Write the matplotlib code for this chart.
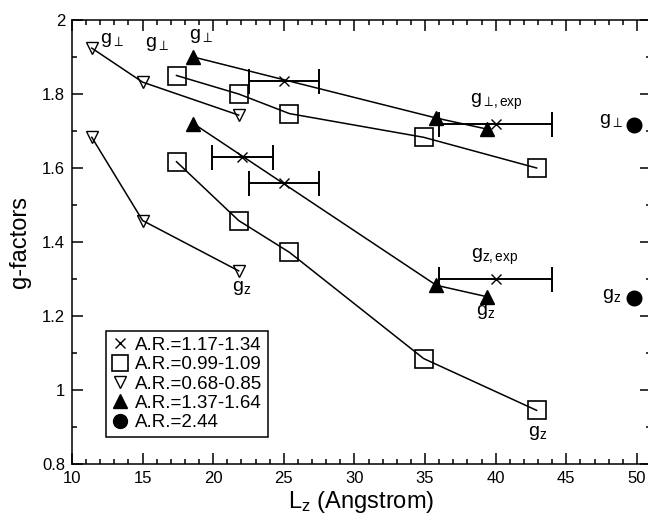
import matplotlib
matplotlib.use('Agg')
import matplotlib.pyplot as plt
from matplotlib.lines import Line2D
from matplotlib.ticker import MultipleLocator, FuncFormatter

# fonts: Helvetica-like text, upright subscripts
plt.rcParams['font.family'] = ['Liberation Sans', 'DejaVu Sans']
plt.rcParams['mathtext.fontset'] = 'custom'
plt.rcParams['mathtext.rm'] = 'Liberation Sans'
plt.rcParams['mathtext.it'] = 'Liberation Sans'
plt.rcParams['mathtext.bf'] = 'Liberation Sans:bold'
plt.rcParams['mathtext.fallback'] = 'stixsans'

# A.R.=1.17-1.34 (crosses with horizontal error bars)
cross_L = [25.0, 22.05, 25.0, 40.0, 40.0]
cross_g = [1.835, 1.63, 1.56, 1.72, 1.30]
cross_err = [2.5, 2.15, 2.5, 4.0, 4.0]

# A.R.=0.99-1.09 (open squares)
sq_L = [17.4, 21.8, 25.4, 34.9, 42.9]
sq_gperp = [1.85, 1.80, 1.747, 1.683, 1.60]
sq_gz = [1.617, 1.458, 1.372, 1.085, 0.945]

# A.R.=0.68-0.85 (open down triangles)
tri_L = [11.4, 15.0, 21.8]
tri_gperp = [1.924, 1.832, 1.743]
tri_gz = [1.683, 1.458, 1.322]

# A.R.=1.37-1.64 (filled up triangles)
up_L = [18.6, 35.8, 39.4]
up_gperp = [1.90, 1.735, 1.705]
up_gz = [1.72, 1.283, 1.252]

# A.R.=2.44 (filled circles)
circ_L = [49.8, 49.8]
circ_g = [1.715, 1.248]

legend_labels = ['A.R.=1.17-1.34', 'A.R.=0.99-1.09', 'A.R.=0.68-0.85',
                 'A.R.=1.37-1.64', 'A.R.=2.44']

# annotation texts and where they sit
note_text = [r'g$_\perp$', r'g$_\perp$', r'g$_\perp$', r'g$_{\perp\!,\mathrm{exp}}$',
             r'g$_\perp$', r'g$_{z,\mathrm{exp}}$', r'g$_z$', r'g$_z$', r'g$_z$', r'g$_z$']
note_L = [12.8, 16.05, 19.15, 40.05, 48.2, 39.9, 48.2, 39.3, 42.95, 22.0]
note_g = [1.945, 1.936, 1.957, 1.78, 1.727, 1.361, 1.254, 1.212, 0.885, 1.277]


def main():
    fig = plt.figure(figsize=(6.48, 5.21), dpi=100)
    ax = fig.add_axes([72 / 648, 57 / 521, 579 / 648, 444 / 521])

    lw = 1.1
    # line series, markers hollow so the line shows through
    for g in (sq_gperp, sq_gz):
        ax.plot(sq_L, g, color='black', lw=lw, marker='s', ms=12.5,
                mfc='none', mec='black', mew=1.2)
    for g in (tri_gperp, tri_gz):
        ax.plot(tri_L, g, color='black', lw=lw, marker='v', ms=9,
                mfc='none', mec='black', mew=1.0)
    for g in (up_gperp, up_gz):
        ax.plot(up_L, g, color='black', lw=lw, marker='^', ms=10.5,
                mfc='black', mec='black')

    # experimental / cross points with error bars
    ax.errorbar(cross_L, cross_g, xerr=cross_err, fmt='none', ecolor='black',
                elinewidth=1.4, capsize=9, capthick=1.4)
    ax.plot(cross_L, cross_g, ls='none', marker='x', ms=7, mec='black', mew=1.0)

    ax.plot(circ_L, circ_g, ls='none', marker='o', ms=10.5, mfc='black',
            mec='black', clip_on=False)

    for t, x, y in zip(note_text, note_L, note_g):
        ax.text(x, y, t, fontsize=14, ha='center', va='center')

    ax.set_xlim(10, 51)
    ax.set_ylim(0.8, 2.0)
    ax.xaxis.set_major_locator(MultipleLocator(5))
    ax.xaxis.set_minor_locator(MultipleLocator(1))
    ax.yaxis.set_major_locator(MultipleLocator(0.2))
    ax.yaxis.set_minor_locator(MultipleLocator(0.1))
    ax.yaxis.set_major_formatter(FuncFormatter(lambda v, p: '%g' % round(v, 2)))

    ax.tick_params(which='both', direction='in', top=True, right=True,
                   width=1.1, labelsize=12)
    ax.tick_params(which='major', length=8, pad=5)
    ax.tick_params(which='minor', length=3.6)
    for s in ax.spines.values():
        s.set_linewidth(1.1)

    ax.set_xlabel(r'L$_z$ (Angstrom)', fontsize=17, labelpad=2)
    ax.set_ylabel('g-factors', fontsize=17, labelpad=8)

    # legend: markers only
    handles = [
        Line2D([], [], ls='none', marker='x', ms=7, mec='black', mew=1.0),
        Line2D([], [], ls='none', marker='s', ms=11, mfc='none', mec='black', mew=1.2),
        Line2D([], [], ls='none', marker='v', ms=8, mfc='none', mec='black', mew=1.0),
        Line2D([], [], ls='none', marker='^', ms=10, mfc='black', mec='black'),
        Line2D([], [], ls='none', marker='o', ms=10, mfc='black', mec='black'),
    ]
    leg = ax.legend(handles, legend_labels, loc='lower left',
                    bbox_to_anchor=(0.058, 0.061), borderaxespad=0,
                    fontsize=13.5, fancybox=False, framealpha=1,
                    edgecolor='black', labelspacing=0.12, borderpad=0.3,
                    handlelength=0.9, handletextpad=0.35)
    leg.get_frame().set_linewidth(1.1)

    fig.savefig('out.png', dpi=100)


if __name__ == "__main__":
    main()
